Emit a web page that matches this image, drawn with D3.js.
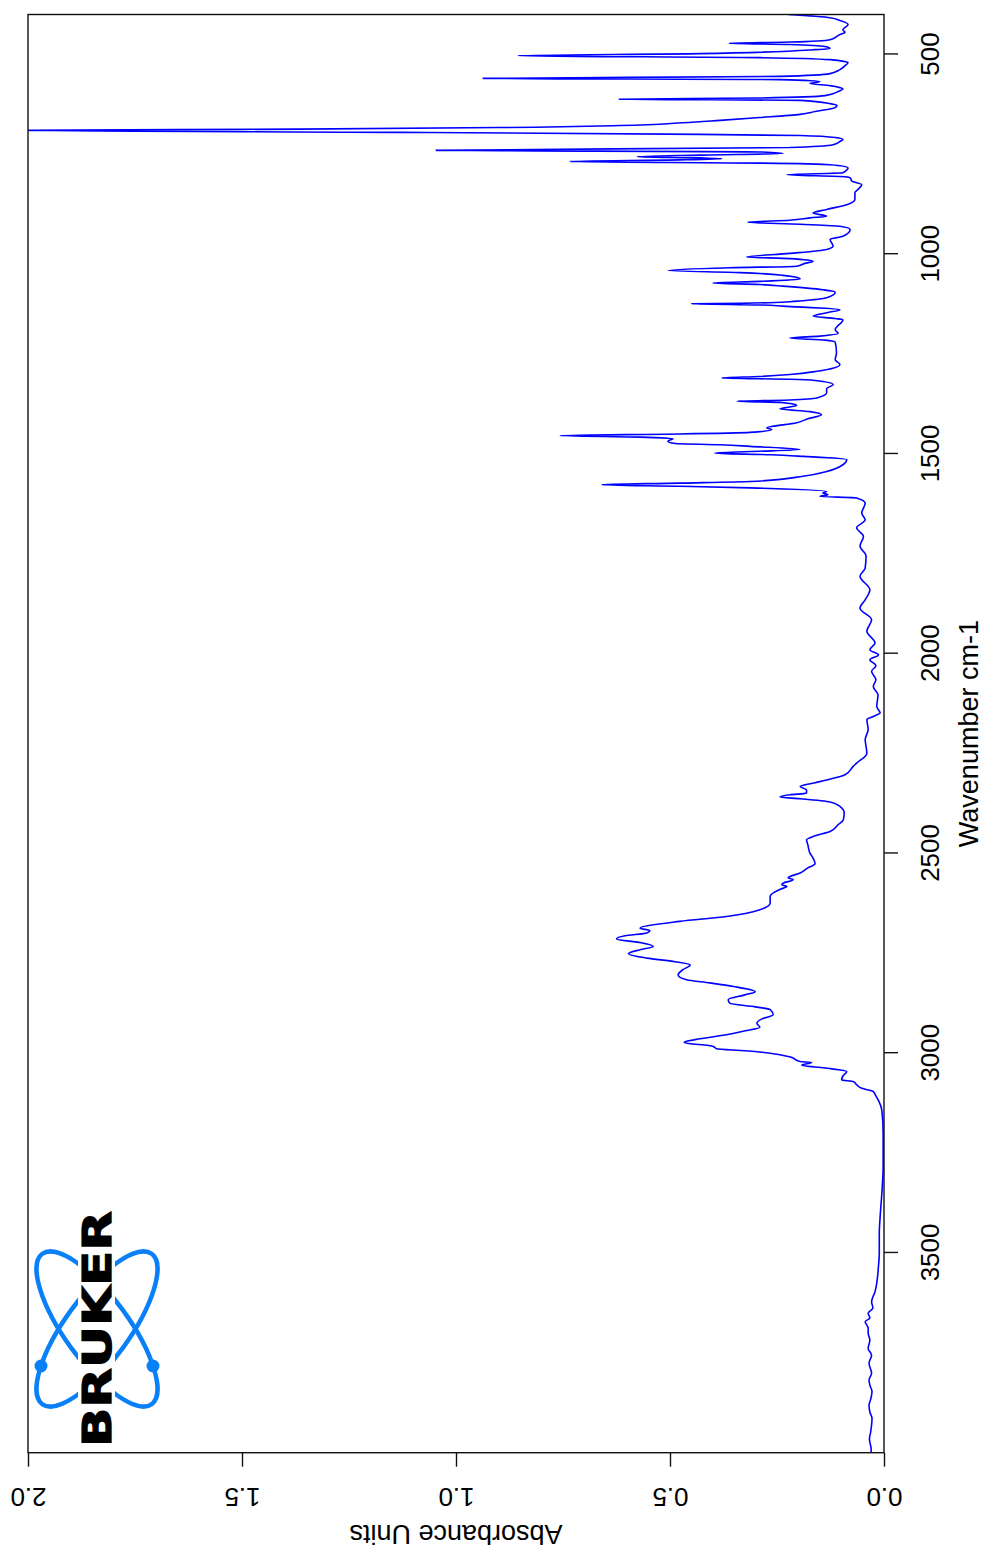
<!DOCTYPE html>
<html>
<head>
<meta charset="utf-8">
<script src="https://cdn.jsdelivr.net/npm/d3@7"></script>
<style>
  body { margin: 0; background: #fff; }
  svg { display: block; font-family: 'Liberation Sans', Arial, sans-serif; }
</style>
</head>
<body>
<script>
// spectrum (wavenumber cm-1, absorbance)
var wavenumbers = [
  400, 408, 415, 425, 438, 445, 450, 463, 469, 472, 475, 480, 485, 488, 498, 503, 508, 513, 518, 520,
  528, 538, 548, 555, 560, 563, 568, 573, 578, 583, 586, 593, 603, 609, 612, 615, 623, 628, 633, 643,
  650, 658, 665, 671, 678, 683, 687, 690, 695, 700, 703, 708, 713, 718, 726, 733, 740, 744, 748, 752,
  756, 759, 761, 764, 768, 772, 776, 784, 788, 796, 801, 806, 809, 817, 826, 838, 846, 863, 876, 888,
  897, 905, 909, 915, 920, 925, 930, 938, 955, 963, 980, 988, 998, 1007, 1011, 1018, 1023, 1030, 1034, 1041,
  1046, 1053, 1062, 1068, 1072, 1076, 1080, 1089, 1095, 1109, 1117, 1119, 1123, 1124, 1127, 1130, 1139, 1146, 1155, 1161,
  1164, 1189, 1198, 1205, 1210, 1215, 1220, 1247, 1264, 1276, 1293, 1301, 1306, 1310, 1313, 1316, 1326, 1337, 1347, 1360,
  1365, 1368, 1371, 1379, 1387, 1394, 1402, 1412, 1422, 1435, 1439, 1446, 1450, 1454, 1458, 1462, 1468, 1474, 1477, 1481,
  1489, 1494, 1498, 1502, 1506, 1514, 1527, 1544, 1556, 1569, 1573, 1577, 1581, 1585, 1594, 1598, 1602, 1606, 1610, 1623,
  1648, 1665, 1685, 1706, 1731, 1755, 1786, 1806, 1840, 1865, 1886, 1915, 1944, 1973, 1990, 2003, 2015, 2030, 2044, 2065,
  2082, 2103, 2132, 2148, 2157, 2165, 2190, 2215, 2249, 2274, 2282, 2303, 2316, 2323, 2332, 2341, 2349, 2353, 2359, 2363,
  2371, 2382, 2398, 2416, 2428, 2445, 2456, 2466, 2478, 2499, 2511, 2526, 2536, 2549, 2561, 2566, 2574, 2578, 2583, 2590,
  2607, 2624, 2641, 2658, 2670, 2687, 2693, 2699, 2706, 2714, 2723, 2733, 2741, 2751, 2762, 2771, 2779, 2791, 2804, 2816,
  2824, 2833, 2846, 2854, 2866, 2875, 2884, 2891, 2904, 2914, 2925, 2935, 2944, 2954, 2964, 2973, 2983, 2989, 2994, 3000,
  3009, 3021, 3023, 3030, 3037, 3046, 3057, 3067, 3071, 3080, 3088, 3096, 3107, 3118, 3143, 3200, 3284, 3350, 3409, 3451,
  3501, 3534, 3576, 3597, 3622, 3638, 3651, 3663, 3672, 3688, 3701, 3718, 3739, 3756, 3776, 3801, 3818, 3831, 3847, 3866,
  3881, 3898, 3914, 3947, 3966, 3991, 4000
];
var absorbance = [
  .224, .126, .103, .084, .096, .091, .103, .126, .220, .362, .220, .138, .126, .161, .430, .855, .290, .126, .091, .084,
  .091, .103, .126, .243, .937, .243, .150, .173, .126, .103, .096, .107, .138, .290, .619, .196, .126, .110, .114, .161,
  .196, .290, .383, .470, .617, .897, 1.364, 2.000, 1.131, .430, .196, .114, .096, .103, .119, .220, 1.047, .290, .236, .430,
  .577, .430, .379, .477, .734, .290, .126, .084, .086, .096, .227, .091, .079, .075, .052, .061, .068, .068, .087, .134,
  .166, .134, .173, .220, .318, .196, .103, .079, .096, .126, .119, .134, .220, .321, .220, .166, .185, .204, .360, .505,
  .336, .236, .196, .290, .400, .290, .236, .143, .114, .134, .196, .220, .336, .449, .290, .236, .103, .131, .166, .114,
  .096, .114, .107, .150, .220, .138, .114, .111, .114, .103, .157, .220, .290, .379, .220, .161, .119, .134, .134, .157,
  .220, .343, .243, .204, .243, .173, .146, .178, .204, .274, .262, .313, .477, .757, .570, .493, .505, .488, .383, .313,
  .196, .313, .395, .266, .189, .087, .096, .134, .189, .313, .477, .659, .477, .313, .134, .143, .131, .150, .064, .044,
  .052, .044, .064, .048, .056, .042, .044, .056, .033, .044, .056, .029, .040, .021, .033, .013, .033, .019, .029, .019,
  .025, .014, .017, .009, .025, .040, .037, .044, .040, .064, .072, .091, .134, .161, .196, .181, .181, .220, .243, .196,
  .126, .103, .093, .095, .107, .126, .161, .181, .178, .173, .166, .161, .178, .196, .224, .212, .235, .239, .227, .243,
  .266, .266, .290, .368, .477, .570, .547, .554, .605, .625, .570, .539, .570, .597, .554, .488, .453, .470, .481, .461,
  .407, .352, .301, .325, .364, .360, .301, .266, .259, .285, .297, .290, .325, .368, .430, .467, .399, .391, .325, .266,
  .220, .196, .169, .192, .138, .087, .096, .099, .072, .063, .052, .025, .019, .013, .005, .002, .002, .005, .009, .011,
  .011, .013, .017, .021, .029, .026, .037, .033, .044, .037, .037, .033, .037, .029, .035, .029, .035, .033, .028, .031,
  .035, .033, .028, .031, .034, .030, .030
];

var absTicks = [0, 0.5, 1.0, 1.5, 2.0];
var wnTicks  = [500, 1000, 1500, 2000, 2500, 3000, 3500];

var absLabel = 'Absorbance Units';
var wnLabel  = 'Wavenumber cm-1';
var logoText = 'BRUKER';

var svg, plot;

{
  const width  = 983,
        height = 1549;

  // the chart is laid out as a normal spectrum and then turned a quarter left
  const left   = 96.3,
        right  = 1534.5,
        top    = 28,
        bottom = 884;

  svg = d3.select('body').append('svg')
      .attr('width', width)
      .attr('height', height);

  plot = svg.append('g')
      .attr('transform', 'translate(0,' + height + ') rotate(-90)');

  const x = d3.scaleLinear()
      .domain([4000, 400])
      .range([left, right]);

  const y = d3.scaleLinear()
      .domain([0, 2])
      .range([bottom, top]);

  plot.append('clipPath')
      .attr('id', 'frame-clip')
    .append('rect')
      .attr('x', left)
      .attr('y', top)
      .attr('width', right - left)
      .attr('height', bottom - top);

  const points = wavenumbers.map(function(wn, i) {
    return {wn: wn, a: absorbance[i]};
  }).sort(function(p, q) { return q.wn - p.wn; });

  const line = d3.line()
      .x(function(d) { return x(d.wn); })
      .y(function(d) { return y(d.a); })
      .curve(d3.curveMonotoneX);

  plot.append('path')
      .datum(points)
      .attr('clip-path', 'url(#frame-clip)')
      .attr('d', line)
      .attr('fill', 'none')
      .attr('stroke', '#0000ff')
      .attr('stroke-width', 1.6)
      .attr('stroke-linejoin', 'round');

  // frame
  plot.append('rect')
      .attr('x', left)
      .attr('y', top)
      .attr('width', right - left)
      .attr('height', bottom - top)
      .attr('fill', 'none')
      .attr('stroke', '#111')
      .attr('stroke-width', 1.4);

  // absorbance axis (ends up at the bottom, upside down)
  const yAxis = plot.append('g')
      .attr('transform', 'translate(' + left + ',0)')
      .call(d3.axisLeft(y)
        .tickValues(absTicks)
        .tickFormat(d3.format('.1f'))
        .tickSize(14));
  yAxis.select('.domain').remove();
  yAxis.selectAll('line')
      .attr('stroke', '#111')
      .attr('stroke-width', 1.4);
  yAxis.selectAll('text')
      .attr('x', null)
      .attr('dy', null)
      .attr('fill', '#000')
      .attr('font-size', 26)
      .attr('font-family', "'Liberation Sans', Arial, sans-serif")
      .attr('text-anchor', 'middle')
      .attr('transform', 'translate(-35,0) rotate(-90)');

  // wavenumber axis (ends up on the right)
  const xAxis = plot.append('g')
      .attr('transform', 'translate(0,' + bottom + ')')
      .call(d3.axisBottom(x)
        .tickValues(wnTicks)
        .tickFormat(d3.format('d'))
        .tickSize(14));
  xAxis.select('.domain').remove();
  xAxis.selectAll('line')
      .attr('stroke', '#111')
      .attr('stroke-width', 1.4);
  xAxis.selectAll('text')
      .attr('y', 55)
      .attr('dy', null)
      .attr('fill', '#000')
      .attr('font-size', 26)
      .attr('font-family', "'Liberation Sans', Arial, sans-serif");

  plot.append('text')
      .attr('x', (left + right) / 2)
      .attr('y', 978)
      .attr('text-anchor', 'middle')
      .attr('font-size', 27)
      .text(wnLabel);

  plot.append('text')
      .attr('transform', 'translate(24,' + (top + bottom) / 2 + ') rotate(-90)')
      .attr('text-anchor', 'middle')
      .attr('font-size', 27)
      .text(absLabel);

  drawLogo();
}

function drawLogo() {
  const cx = 97, cy = 1329;
  const blue = '#0a80f8';

  const logo = svg.append('g');

  [54, -54].forEach(function(angle) {
    logo.append('ellipse')
        .attr('cx', cx)
        .attr('cy', cy)
        .attr('rx', 93)
        .attr('ry', 32)
        .attr('transform', 'rotate(' + angle + ',' + cx + ',' + cy + ')')
        .attr('fill', 'none')
        .attr('stroke', blue)
        .attr('stroke-width', 4.5);
  });

  logo.selectAll('circle')
      .data([41, 153])
    .enter().append('circle')
      .attr('cx', function(d) { return d; })
      .attr('cy', 1366)
      .attr('r', 6.5)
      .attr('fill', blue);

  // white band behind the lettering
  logo.append('rect')
      .attr('x', 78)
      .attr('y', 1205)
      .attr('width', 37)
      .attr('height', 245)
      .attr('fill', '#fff');

  logo.append('text')
      .attr('transform', 'translate(111,1447) rotate(-90)')
      .attr('font-family', "'DejaVu Sans', sans-serif")
      .attr('font-weight', 'bold')
      .attr('font-size', 39)
      .attr('textLength', 236)
      .attr('lengthAdjust', 'spacingAndGlyphs')
      .attr('fill', '#000')
      .attr('stroke', '#000')
      .attr('stroke-width', 1.2)
      .text(logoText);
}
</script>
</body>
</html>
